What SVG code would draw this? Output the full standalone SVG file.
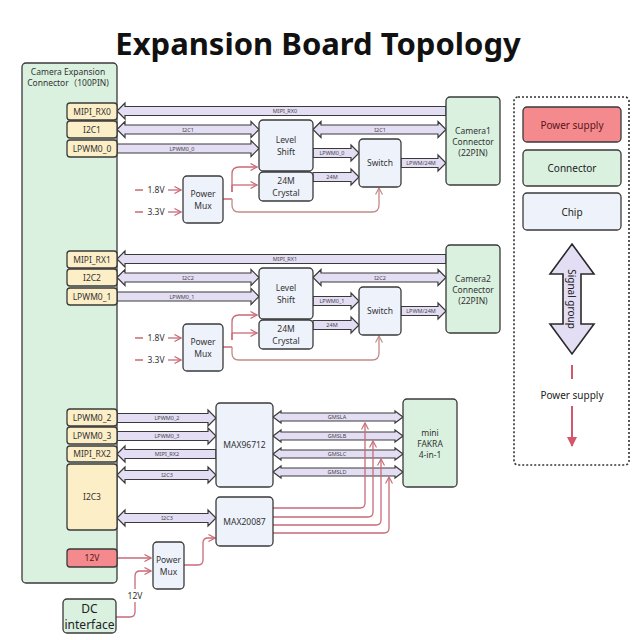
<svg xmlns="http://www.w3.org/2000/svg" width="640" height="640" viewBox="0 0 640 640">
<defs>
<style>
.t{font-family:"Noto Sans","Noto Sans CJK SC","Liberation Sans",sans-serif;fill:#333;text-anchor:middle}
.title{font-size:31px;font-weight:700;fill:#111}
.n{font-size:8.5px}
.s{font-size:5.5px;fill:#444}
.lg{font-size:10px;fill:#222}
.conn{fill:#daf1e0;stroke:#3a3a3a;stroke-width:1.3}
.pin{fill:#fcefc7;stroke:#3a3a3a;stroke-width:1.3}
.chip{fill:#eef2fb;stroke:#3a3a3a;stroke-width:1.3}
.pwr{fill:#f4898e;stroke:#3a3a3a;stroke-width:1.3}
.ar{fill:#e4def5;stroke:#3a3a3a;stroke-width:1.2;stroke-linejoin:miter}
.pl{fill:none;stroke:#c96b78;stroke-width:1.3}
.pl2{fill:none;stroke:#c08a88;stroke-width:1.3}
</style>
<marker id="ch" viewBox="0 0 8 8" refX="7" refY="4" markerWidth="8" markerHeight="8" markerUnits="userSpaceOnUse" orient="auto">
<path d="M0.5,0.5 L7,4 L0.5,7.5" fill="none" stroke="#c96b78" stroke-width="1.2"/>
</marker>
<marker id="ch2" viewBox="0 0 8 8" refX="7" refY="4" markerWidth="8" markerHeight="8" markerUnits="userSpaceOnUse" orient="auto">
<path d="M0.5,0.5 L7,4 L0.5,7.5" fill="none" stroke="#c08a88" stroke-width="1.2"/>
</marker>
<marker id="tri" viewBox="0 0 10 10" refX="9" refY="5" markerWidth="10" markerHeight="12" markerUnits="userSpaceOnUse" orient="auto">
<path d="M0,0 L10,5 L0,10 Z" fill="#d4566a"/>
</marker>
</defs>
<rect width="640" height="640" fill="#fff"/>
<text class="t title" x="318" y="55">Expansion Board Topology</text>

<!-- connectors -->
<g id="connectors">
<!-- group 1 -->
<path class="ar" d="M117,111 L125,103 V106.5 H446 V115.5 H125 V119 Z"/>
<path class="ar" d="M117,129.5 L125,121.5 V125 H251 V121.5 L259,129.5 L251,137.5 V134 H125 V137.5 Z"/>
<path class="ar" d="M313,129.5 L321,121.5 V125 H438 V121.5 L446,129.5 L438,137.5 V134 H321 V137.5 Z"/>
<path class="ar" d="M117,144 H251 V140.5 L259,148.5 L251,156.5 V153 H117 Z"/>
<path class="ar" d="M313,148.5 H351 V145 L359,153 L351,161 V157.5 H313 Z"/>
<path class="ar" d="M313,172.5 H351 V169 L359,177 L351,185 V181.5 H313 Z"/>
<path class="ar" d="M401,158.5 H438 V155 L446,163 L438,171 V167.5 H401 Z"/>
<text class="t s" x="285" y="113">MIPI_RX0</text>
<text class="t s" x="188" y="131.5">I2C1</text>
<text class="t s" x="380" y="131.5">I2C1</text>
<text class="t s" x="182" y="150.5">LPWM0_0</text>
<text class="t s" x="332" y="155">LPWM0_0</text>
<text class="t s" x="332" y="179">24M</text>
<text class="t s" x="421" y="165">LPWM/24M</text>
<path class="pl" d="M168,190 H181" marker-end="url(#ch)"/>
<path class="pl" d="M168,212 H181" marker-end="url(#ch)"/>
<path class="pl" d="M135,190 H143 M135,212 H143"/>
<text class="t n" x="156" y="193">1.8V</text>
<text class="t n" x="156" y="215">3.3V</text>
<path class="pl" d="M223,199 H232 M232,192 V174 Q232,167 239,167 H257" marker-end="url(#ch)"/>
<path class="pl" d="M232,185 H257" marker-end="url(#ch)"/>
<path class="pl" d="M232,185 V192"/>
<path class="pl2" d="M232,199 V205 Q232,212 239,212 H372 Q379,212 379,205 V188" marker-end="url(#ch2)"/>

<!-- group 2 -->
<g transform="translate(0,148)">
<path class="ar" d="M117,111 L125,103 V106.5 H446 V115.5 H125 V119 Z"/>
<path class="ar" d="M117,129.5 L125,121.5 V125 H251 V121.5 L259,129.5 L251,137.5 V134 H125 V137.5 Z"/>
<path class="ar" d="M313,129.5 L321,121.5 V125 H438 V121.5 L446,129.5 L438,137.5 V134 H321 V137.5 Z"/>
<path class="ar" d="M117,144 H251 V140.5 L259,148.5 L251,156.5 V153 H117 Z"/>
<path class="ar" d="M313,148.5 H351 V145 L359,153 L351,161 V157.5 H313 Z"/>
<path class="ar" d="M313,172.5 H351 V169 L359,177 L351,185 V181.5 H313 Z"/>
<path class="ar" d="M401,158.5 H438 V155 L446,163 L438,171 V167.5 H401 Z"/>
<text class="t s" x="285" y="113">MIPI_RX1</text>
<text class="t s" x="188" y="131.5">I2C2</text>
<text class="t s" x="380" y="131.5">I2C2</text>
<text class="t s" x="182" y="150.5">LPWM0_1</text>
<text class="t s" x="332" y="155">LPWM0_1</text>
<text class="t s" x="332" y="179">24M</text>
<text class="t s" x="421" y="165">LPWM/24M</text>
<path class="pl" d="M168,190 H181" marker-end="url(#ch)"/>
<path class="pl" d="M168,212 H181" marker-end="url(#ch)"/>
<path class="pl" d="M135,190 H143 M135,212 H143"/>
<text class="t n" x="156" y="193">1.8V</text>
<text class="t n" x="156" y="215">3.3V</text>
<path class="pl" d="M223,199 H232 M232,192 V174 Q232,167 239,167 H257" marker-end="url(#ch)"/>
<path class="pl" d="M232,185 H257" marker-end="url(#ch)"/>
<path class="pl" d="M232,185 V192"/>
<path class="pl2" d="M232,199 V205 Q232,212 239,212 H372 Q379,212 379,205 V188" marker-end="url(#ch2)"/>
</g>

<!-- group 3 -->
<path class="ar" d="M117,413.5 H208 V410 L216,418 L208,426 V422.5 H117 Z"/>
<path class="ar" d="M117,431.5 H208 V428 L216,436 L208,444 V440.5 H117 Z"/>
<path class="ar" d="M117,454 L125,446 V449.5 H216 V458.5 H125 V462 Z"/>
<path class="ar" d="M117,475 L125,467 V470.5 H208 V467 L216,475 L208,483 V479.5 H125 V483 Z"/>
<path class="ar" d="M117,518 L125,510 V513.5 H208 V510 L216,518 L208,526 V522.5 H125 V526 Z"/>
<text class="t s" x="167" y="420">LPWM0_2</text>
<text class="t s" x="167" y="438">LPWM0_3</text>
<text class="t s" x="167" y="456">MIPI_RX2</text>
<text class="t s" x="167" y="477">I2C3</text>
<text class="t s" x="167" y="520">I2C3</text>
<path class="ar" d="M273,417 L281,411 V413 H395 V411 L403,417 L395,423 V421 H281 V423 Z"/>
<path class="ar" d="M273,436 L281,430 V432 H395 V430 L403,436 L395,442 V440 H281 V442 Z"/>
<path class="ar" d="M273,454 L281,448 V450 H395 V448 L403,454 L395,460 V458 H281 V460 Z"/>
<path class="ar" d="M273,472 L281,466 V468 H395 V466 L403,472 L395,478 V476 H281 V478 Z"/>
<text class="t s" x="337" y="419">GMSLA</text>
<text class="t s" x="337" y="438">GMSLB</text>
<text class="t s" x="337" y="456">GMSLC</text>
<text class="t s" x="337" y="474">GMSLD</text>
<path class="pl" d="M273,508 H360 Q365,508 365,503 V423" marker-end="url(#ch)"/>
<path class="pl" d="M273,517 H368 Q373,517 373,512 V441" marker-end="url(#ch)"/>
<path class="pl" d="M273,525 H376 Q381,525 381,520 V459" marker-end="url(#ch)"/>
<path class="pl" d="M273,533 H384 Q389,533 389,528 V477" marker-end="url(#ch)"/>
<path class="pl" d="M117,558 H151" marker-end="url(#ch)"/>
<path class="pl" d="M116,617 H130 Q135,617 135,612 V576 Q135,571 140,571 H151" marker-end="url(#ch)"/>
<rect x="126" y="589" width="18" height="13" fill="#fff"/>
<text class="t n" x="135" y="599">12V</text>
<path class="pl" d="M184,565 H198 Q203,565 203,560 V543 Q203,538 208,538 H215" marker-end="url(#ch)"/>
</g>

<!-- nodes -->
<g id="main-connector">
<rect class="conn" x="22" y="63" width="95" height="520" rx="4"/>
<text class="t n" x="68" y="75">Camera Expansion</text>
<text class="t n" x="68" y="86">Connector（100PIN)</text>
</g>
<g id="pin-mipi-rx0"><rect class="pin" x="67" y="103" width="50" height="17" rx="3"/><text class="t n" x="92" y="114.5">MIPI_RX0</text></g>
<g id="pin-i2c1"><rect class="pin" x="67" y="121" width="50" height="17" rx="3"/><text class="t n" x="92" y="132.5">I2C1</text></g>
<g id="pin-lpwm0-0"><rect class="pin" x="67" y="140" width="50" height="17" rx="3"/><text class="t n" x="92" y="151.5">LPWM0_0</text></g>
<g id="pin-mipi-rx1"><rect class="pin" x="67" y="251" width="50" height="17" rx="3"/><text class="t n" x="92" y="262.5">MIPI_RX1</text></g>
<g id="pin-i2c2"><rect class="pin" x="67" y="269" width="50" height="17" rx="3"/><text class="t n" x="92" y="280.5">I2C2</text></g>
<g id="pin-lpwm0-1"><rect class="pin" x="67" y="288" width="50" height="17" rx="3"/><text class="t n" x="92" y="299.5">LPWM0_1</text></g>
<g id="pin-lpwm0-2"><rect class="pin" x="67" y="409" width="50" height="17" rx="3"/><text class="t n" x="92" y="420.5">LPWM0_2</text></g>
<g id="pin-lpwm0-3"><rect class="pin" x="67" y="427" width="50" height="17" rx="3"/><text class="t n" x="92" y="438.5">LPWM0_3</text></g>
<g id="pin-mipi-rx2"><rect class="pin" x="67" y="446" width="50" height="16" rx="3"/><text class="t n" x="92" y="457">MIPI_RX2</text></g>
<g id="pin-i2c3"><rect class="pin" x="67" y="464" width="50" height="66" rx="3"/><text class="t n" x="92" y="500">I2C3</text></g>
<g id="pin-12v"><rect class="pwr" x="67" y="549" width="50" height="18" rx="3"/><text class="t n" x="92" y="561" style="fill:#5a1518">12V</text></g>

<g id="power-mux-1"><rect class="chip" x="183" y="176" width="40" height="47" rx="4"/><text class="t n" x="203" y="197">Power</text><text class="t n" x="203" y="209">Mux</text></g>
<g id="level-shift-1"><rect class="chip" x="259" y="120" width="54" height="51" rx="4"/><text class="t n" x="286" y="143">Level</text><text class="t n" x="286" y="155">Shift</text></g>
<g id="crystal-1"><rect class="chip" x="259" y="172" width="54" height="29" rx="4"/><text class="t n" x="286" y="184">24M</text><text class="t n" x="286" y="196">Crystal</text></g>
<g id="switch-1"><rect class="chip" x="359" y="139" width="42" height="48" rx="4"/><text class="t n" x="380" y="166">Switch</text></g>
<g id="camera1"><rect class="conn" x="446" y="97" width="54" height="88" rx="4"/><text class="t n" x="473" y="134">Camera1</text><text class="t n" x="473" y="145">Connector</text><text class="t n" x="473" y="156">(22PIN)</text></g>

<g id="power-mux-2"><rect class="chip" x="183" y="324" width="40" height="47" rx="4"/><text class="t n" x="203" y="345">Power</text><text class="t n" x="203" y="357">Mux</text></g>
<g id="level-shift-2"><rect class="chip" x="259" y="268" width="54" height="51" rx="4"/><text class="t n" x="286" y="291">Level</text><text class="t n" x="286" y="303">Shift</text></g>
<g id="crystal-2"><rect class="chip" x="259" y="320" width="54" height="29" rx="4"/><text class="t n" x="286" y="332">24M</text><text class="t n" x="286" y="344">Crystal</text></g>
<g id="switch-2"><rect class="chip" x="359" y="287" width="42" height="48" rx="4"/><text class="t n" x="380" y="314">Switch</text></g>
<g id="camera2"><rect class="conn" x="446" y="245" width="54" height="88" rx="4"/><text class="t n" x="473" y="282">Camera2</text><text class="t n" x="473" y="293">Connector</text><text class="t n" x="473" y="304">(22PIN)</text></g>

<g id="max96712"><rect class="chip" x="216" y="403" width="57" height="84" rx="4"/><text class="t n" x="244.5" y="448">MAX96712</text></g>
<g id="max20087"><rect class="chip" x="216" y="497" width="57" height="49" rx="4"/><text class="t n" x="244.5" y="525">MAX20087</text></g>
<g id="fakra"><rect class="conn" x="403" y="399" width="54" height="88" rx="4"/><text class="t n" x="430" y="436">mini</text><text class="t n" x="430" y="447">FAKRA</text><text class="t n" x="430" y="458">4-in-1</text></g>
<g id="power-mux-3"><rect class="chip" x="153" y="542" width="31" height="47" rx="4"/><text class="t n" x="168.5" y="563">Power</text><text class="t n" x="168.5" y="575">Mux</text></g>
<g id="dc-interface"><rect class="conn" x="63" y="599" width="53" height="34" rx="4"/><text class="t" x="89.5" y="613" style="font-size:12px;fill:#222">DC</text><text class="t" x="89.5" y="628.5" style="font-size:12px;fill:#222">interface</text></g>

<!-- legend -->
<g id="legend">
<rect x="514" y="97" width="115" height="368" rx="4" fill="none" stroke="#333" stroke-width="1.6" stroke-dasharray="2,2"/>
<rect class="pwr" x="523" y="107" width="98" height="35" rx="4"/>
<text class="t lg" x="572" y="128.5" style="fill:#5a1518">Power supply</text>
<rect class="conn" x="523" y="150" width="98" height="36" rx="4"/>
<text class="t lg" x="572" y="172">Connector</text>
<rect class="chip" x="523" y="193" width="98" height="37" rx="4"/>
<text class="t lg" x="572" y="215.5">Chip</text>
<path d="M572,244 L594,274 H581 V324 H594 L572,354 L550,324 H563 V274 H550 Z" fill="#e4def5" stroke="#2a2a2a" stroke-width="1.6" stroke-linejoin="miter"/>
<text class="t lg" x="572" y="299" transform="rotate(90 572 299)" dominant-baseline="central">Signal group</text>
<path d="M572,365 V379" stroke="#d4566a" stroke-width="2" fill="none"/>
<text class="t lg" x="572" y="399">Power supply</text>
<path d="M572,406 V446" stroke="#d4566a" stroke-width="2" fill="none" marker-end="url(#tri)"/>
</g>
</svg>
